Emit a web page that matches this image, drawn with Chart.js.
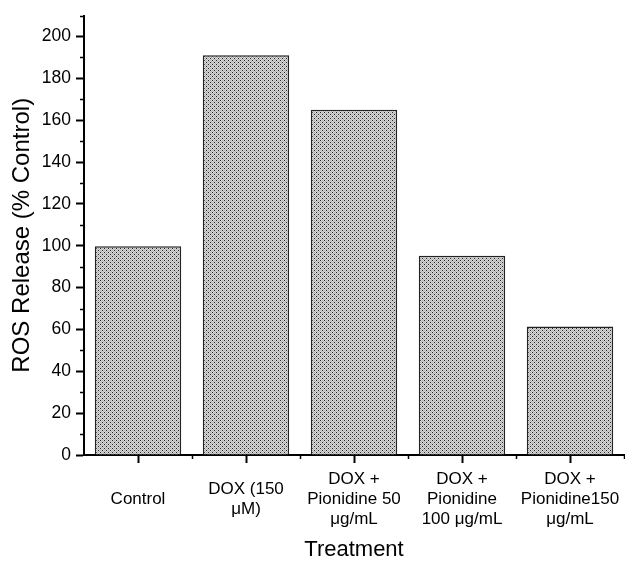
<!DOCTYPE html>
<html>
<head>
<meta charset="utf-8">
<script src="https://cdn.jsdelivr.net/npm/chart.js@4"></script>
<style>
  html, body { margin: 0; padding: 0; background: #fff; }
  #wrap { width: 625px; height: 563px; }
</style>
</head>
<body>
<div id="wrap"><canvas id="rosChart"></canvas></div>
<script>
// values
const treatments = [
  "Control",
  ["DOX (150", "μM)"],
  ["DOX +", "Pionidine 50", "μg/mL"],
  ["DOX +", "Pionidine", "100 μg/mL"],
  ["DOX +", "Pionidine150", "μg/mL"]
];
const rosRelease = [99.7, 191, 165, 95.2, 61.4];
const yTicks = [0, 20, 40, 60, 80, 100, 120, 140, 160, 180, 200];

// dotted grey fill like the original hatch
function makeDotPattern() {
  const c = document.createElement("canvas");
  c.width = 4; c.height = 4;
  const g = c.getContext("2d");
  for (let y = 0; y < 4; y++) {
    for (let x = 0; x < 4; x++) {
      g.fillStyle = (x + y) % 2 === 0 ? "#b0b0b0" : "#dadada";
      g.fillRect(x, y, 1, 1);
    }
  }
  g.fillStyle = "#222";
  g.fillRect(0, 0, 1, 1);
  g.fillRect(2, 2, 1, 1);
  return g.createPattern(c, "repeat");
}

// short minor ticks between the major ones
const minorTicks = {
  id: "minorTicks",
  afterDraw(chart) {
    const ctx = chart.ctx;
    const xs = chart.scales.x, ys = chart.scales.y;
    ctx.save();
    ctx.strokeStyle = "#000";
    ctx.lineWidth = 1.5;
    ctx.beginPath();
    for (let v = 10; v <= ys.max; v += 20) {
      const py = Math.round(ys.getPixelForValue(v)) + 0.5;
      ctx.moveTo(xs.left - 4, py);
      ctx.lineTo(xs.left, py);
    }
    for (let i = 0; i < treatments.length; i++) {
      const px = Math.round(xs.getPixelForValue(i + 0.5)) + 0.5;
      ctx.moveTo(px, ys.bottom);
      ctx.lineTo(px, ys.bottom + 4);
    }
    ctx.stroke();
    ctx.restore();
  }
};

const ctx = document.getElementById("rosChart").getContext("2d");
new Chart(ctx, {
  type: "bar",
  data: {
    labels: treatments,
    datasets: [{
      data: rosRelease,
      backgroundColor: makeDotPattern(),
      borderColor: "#222",
      borderWidth: 1.5,
      borderSkipped: "bottom",
      barPercentage: 0.8,
      categoryPercentage: 1.0
    }]
  },
  options: {
    responsive: true,
    maintainAspectRatio: false,
    animation: false,
    layout: { padding: { top: 14, right: 1, bottom: 0, left: 0 } },
    plugins: {
      legend: { display: false },
      tooltip: { enabled: false }
    },
    scales: {
      x: {
        offset: true,
        afterFit: (s) => {
          s.height = 108;
          s.paddingLeft = 0;
          s.paddingRight = 0;
        },
        grid: {
          offset: false,
          drawOnChartArea: false,
          drawTicks: true,
          tickLength: 8,
          tickWidth: 2,
          tickColor: "#000"
        },
        border: { display: true, color: "#000", width: 2 },
        ticks: {
          color: "#000",
          font: { family: "'Liberation Sans', Arial, sans-serif", size: 17 },
          padding: 16,
          maxRotation: 0,
          autoSkip: false,
          crossAlign: "center"
        },
        title: {
          display: true,
          text: "Treatment",
          color: "#000",
          font: { family: "'Liberation Sans', Arial, sans-serif", size: 22 },
          padding: { top: 0, bottom: 0 }
        }
      },
      y: {
        min: 0,
        max: 210,
        afterFit: (s) => { s.width = 84; },
        afterBuildTicks: (s) => { s.ticks = yTicks.map(v => ({ value: v })); },
        grid: {
          drawOnChartArea: false,
          drawTicks: true,
          tickLength: 8,
          tickWidth: 2,
          tickColor: "#000"
        },
        border: { display: true, color: "#000", width: 2 },
        ticks: {
          color: "#000",
          font: { family: "'Liberation Sans', Arial, sans-serif", size: 17.5 },
          padding: 5
        },
        title: {
          display: true,
          text: "ROS Release (% Control)",
          color: "#000",
          font: { family: "'Liberation Sans', Arial, sans-serif", size: 24 },
          padding: { top: 8, bottom: 0 }
        }
      }
    }
  },
  plugins: [minorTicks]
});
</script>
</body>
</html>
